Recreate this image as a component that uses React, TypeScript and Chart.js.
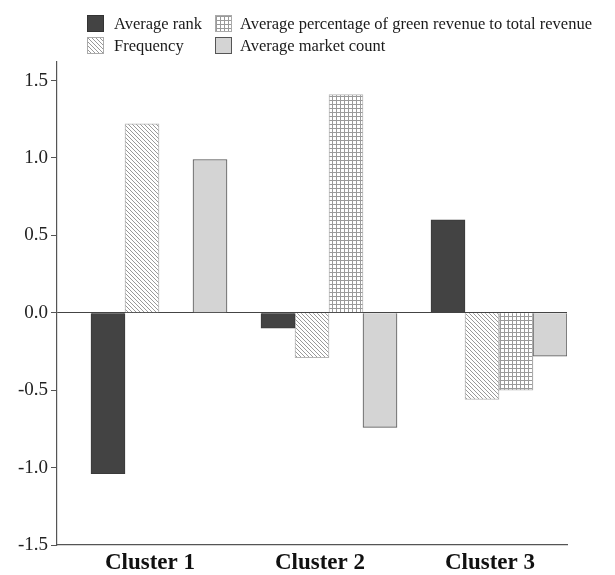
import React, { useEffect, useRef } from 'react';
import { Chart, registerables } from 'chart.js';

Chart.register(...registerables);

const categories = ['Cluster 1', 'Cluster 2', 'Cluster 3'];
const avgRank = [-1.04, -0.1, 0.6];
const frequency = [1.22, -0.29, -0.56];
const greenRevenuePct: (number | null)[] = [null, 1.41, -0.5];
const marketCount = [0.99, -0.74, -0.28];
const yTickValues = [-1.5, -1.0, -0.5, 0, 0.5, 1.0, 1.5];

const seriesNames = [
  'Average rank',
  'Frequency',
  'Average percentage of green revenue to total revenue',
  'Average market count',
];

const FONT = '"Liberation Serif", "Times New Roman", serif';

function makeHatch(): CanvasPattern | string {
  const c = document.createElement('canvas');
  c.width = 4;
  c.height = 4;
  const g = c.getContext('2d');
  if (!g) return '#ccc';
  g.fillStyle = '#ffffff';
  g.fillRect(0, 0, 4, 4);
  g.fillStyle = '#999999';
  for (let i = 0; i < 4; i++) g.fillRect(i, i, 1, 1);
  const p = g.createPattern(c, 'repeat');
  return p || '#ccc';
}

function makeGrid(): CanvasPattern | string {
  const c = document.createElement('canvas');
  c.width = 4;
  c.height = 4;
  const g = c.getContext('2d');
  if (!g) return '#ddd';
  g.fillStyle = '#ffffff';
  g.fillRect(0, 0, 4, 4);
  g.fillStyle = '#9a9a9a';
  g.fillRect(0, 0, 4, 1);
  g.fillRect(0, 0, 1, 4);
  const p = g.createPattern(c, 'repeat');
  return p || '#ddd';
}

const swatchBase: React.CSSProperties = {
  position: 'absolute',
  width: 17,
  height: 17,
  boxSizing: 'border-box',
};

const legendText: React.CSSProperties = {
  position: 'absolute',
  fontFamily: FONT,
  fontSize: 16.5,
  color: '#1a1a1a',
  whiteSpace: 'nowrap',
  lineHeight: '18px',
};

export default function App() {
  const canvasRef = useRef<HTMLCanvasElement | null>(null);

  useEffect(() => {
    const canvas = canvasRef.current;
    if (!canvas) return;
    const hatch = makeHatch();
    const grid = makeGrid();

    const chart = new Chart(canvas, {
      type: 'bar',
      data: {
        labels: categories,
        datasets: [
          {
            label: 'spacer',
            data: [null, null, null],
            backgroundColor: 'transparent',
          },
          {
            label: seriesNames[0],
            data: avgRank,
            backgroundColor: '#434343',
            borderColor: '#3a3a3a',
            borderWidth: 1,
          },
          {
            label: seriesNames[1],
            data: frequency,
            backgroundColor: hatch as any,
            borderColor: '#b5b5b5',
            borderWidth: 1,
          },
          {
            label: seriesNames[2],
            data: greenRevenuePct,
            backgroundColor: grid as any,
            borderColor: '#b5b5b5',
            borderWidth: 1,
          },
          {
            label: seriesNames[3],
            data: marketCount,
            backgroundColor: '#d4d4d4',
            borderColor: '#555555',
            borderWidth: 1,
          },
        ],
      },
      options: {
        animation: false,
        responsive: false,
        maintainAspectRatio: false,
        datasets: {
          bar: {
            categoryPercentage: 1,
            barPercentage: 1,
            borderSkipped: 'start',
          },
        },
        layout: {
          padding: { left: 0, right: 48, top: 62, bottom: 0 },
        },
        plugins: {
          legend: { display: false },
          tooltip: { enabled: false },
        },
        scales: {
          x: {
            offset: true,
            grid: { display: false, drawTicks: false },
            border: { display: true, color: '#555', width: 1.2 },
            ticks: {
              padding: 4,
              labelOffset: 8,
              color: '#111',
              font: { family: FONT, size: 23, weight: 'bold' },
            },
            afterFit: (scale: any) => {
              scale.height = 30;
            },
          },
          y: {
            min: -1.5,
            max: 1.62,
            afterBuildTicks: (scale: any) => {
              scale.ticks = yTickValues.map((v) => ({ value: v }));
            },
            grid: {
              drawOnChartArea: true,
              drawTicks: true,
              tickLength: 6,
              tickColor: '#555',
              color: (ctx: any) =>
                ctx.tick && ctx.tick.value === 0 ? '#444' : 'rgba(0,0,0,0)',
              lineWidth: 1,
            },
            border: { display: true, color: '#555', width: 1.2 },
            ticks: {
              padding: 3,
              color: '#222',
              font: { family: FONT, size: 19 },
              callback: (v: any) => Number(v).toFixed(1),
            },
            afterFit: (scale: any) => {
              scale.width = 57;
            },
          },
        },
      },
    });

    return () => {
      chart.destroy();
    };
  }, []);

  return (
    <div
      style={{
        position: 'fixed',
        left: 0,
        top: 0,
        width: 615,
        height: 575,
        background: '#fff',
      }}
    >
      <canvas
        ref={canvasRef}
        width={615}
        height={575}
        style={{ position: 'absolute', left: 0, top: 0, width: 615, height: 575 }}
      />
      <div
        style={{
          ...swatchBase,
          left: 87,
          top: 15,
          background: '#434343',
          border: '1px solid #333',
        }}
      />
      <div style={{ ...legendText, left: 114, top: 15 }}>{seriesNames[0]}</div>
      <div
        style={{
          ...swatchBase,
          left: 87,
          top: 37,
          border: '1px solid #aaa',
          background:
            'repeating-linear-gradient(45deg, #fff 0px, #fff 1.8px, #999 1.8px, #999 2.8px)',
        }}
      />
      <div style={{ ...legendText, left: 114, top: 37 }}>{seriesNames[1]}</div>
      <div
        style={{
          ...swatchBase,
          left: 215,
          top: 15,
          border: '1px solid #aaa',
          backgroundColor: '#fff',
          backgroundImage:
            'linear-gradient(#9a9a9a 1px, transparent 1px), linear-gradient(90deg, #9a9a9a 1px, transparent 1px)',
          backgroundSize: '4px 4px',
        }}
      />
      <div style={{ ...legendText, left: 240, top: 15 }}>{seriesNames[2]}</div>
      <div
        style={{
          ...swatchBase,
          left: 215,
          top: 37,
          background: '#d4d4d4',
          border: '1px solid #555',
        }}
      />
      <div style={{ ...legendText, left: 240, top: 37 }}>{seriesNames[3]}</div>
    </div>
  );
}
